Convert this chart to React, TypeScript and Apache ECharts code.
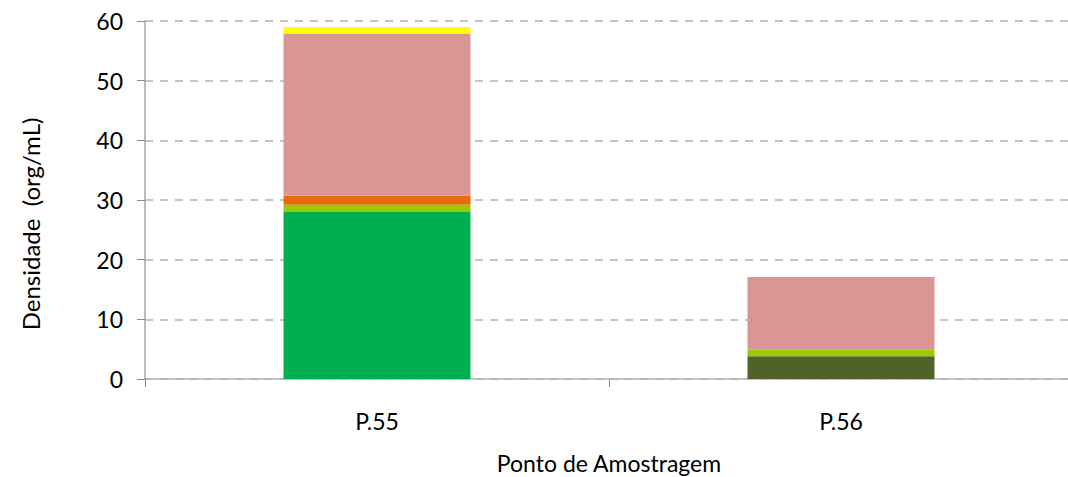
import React, { useEffect, useRef } from "react";
import * as echarts from "echarts";

const categories = ["P.55", "P.56"];
const darkOlive = [0, 3.8];
const green = [28.0, 0];
const lightGreen = [1.2, 1.1];
const orange = [1.5, 0];
const pink = [27.2, 12.2];
const yellow = [1.1, 0];
const yTicks = [0, 10, 20, 30, 40, 50, 60];

const FONT = "Lato";

export default function App() {
  const ref = useRef<HTMLDivElement>(null);
  useEffect(() => {
    if (!ref.current) return;
    const chart = echarts.init(ref.current, undefined, { renderer: "svg" });
    const mk = (name: string, data: number[], color: string) => ({
      name,
      type: "bar",
      stack: "total",
      data,
      barWidth: "40.3%",
      itemStyle: { color },
    });
    chart.setOption({
      animation: false,
      backgroundColor: "#ffffff",
      textStyle: { fontFamily: FONT },
      grid: {
        left: 145,
        top: 21,
        width: 928,
        height: 358,
        containLabel: false,
        outerBoundsMode: "none",
      },
      xAxis: {
        type: "category",
        data: categories,
        axisLine: { lineStyle: { color: "#b3b3b3", width: 1.5 } },
        axisTick: { show: true, length: 8, lineStyle: { color: "#8c8c8c" } },
        axisLabel: { color: "#000", fontSize: 23, fontFamily: FONT, margin: 30 },
        name: "Ponto de Amostragem",
        nameLocation: "middle",
        nameGap: 72,
        nameTextStyle: { color: "#000", fontSize: 23, fontFamily: FONT },
      },
      yAxis: {
        type: "value",
        min: yTicks[0],
        max: yTicks[yTicks.length - 1],
        interval: 10,
        axisLine: { show: true, lineStyle: { color: "#a6a6a6", width: 1.5 } },
        axisTick: { show: true, length: 8, lineStyle: { color: "#8c8c8c" } },
        axisLabel: { color: "#000", fontSize: 23, fontFamily: FONT, margin: 22 },
        splitLine: {
          show: true,
          lineStyle: { color: "#b3b3b3", width: 1.5, type: [8, 7] },
        },
      },
      graphic: [
        {
          type: "text",
          x: 30,
          y: 224,
          rotation: Math.PI / 2,
          style: {
            text: "Densidade  (org/mL)",
            fill: "#000",
            fontSize: 24,
            fontFamily: FONT,
            align: "center",
            verticalAlign: "middle",
          },
        },
      ],
      series: [
        mk("S1", darkOlive, "#4f6228"),
        mk("S2", green, "#00b050"),
        mk("S3", lightGreen, "#99cc00"),
        mk("S4", orange, "#e46c0a"),
        mk("S5", pink, "#d99694"),
        mk("S6", yellow, "#ffff00"),
      ],
    });
    return () => chart.dispose();
  }, []);
  return (
    <div
      ref={ref}
      style={{ position: "fixed", left: 0, top: 0, width: 1068, height: 477 }}
    />
  );
}
